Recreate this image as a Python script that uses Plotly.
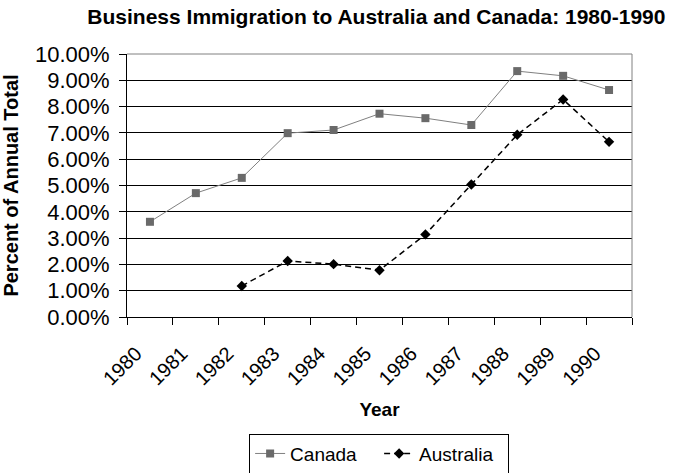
import plotly.graph_objects as go

# Business immigration share of annual total (percent), 1980-1990
years = ["1980", "1981", "1982", "1983", "1984", "1985",
         "1986", "1987", "1988", "1989", "1990"]
canada = [3.62, 4.71, 5.29, 6.99, 7.11, 7.73, 7.56, 7.30, 9.35, 9.17, 8.63]
australia = [None, None, 1.18, 2.13, 2.01, 1.78, 3.14, 5.04, 6.93, 8.27, 6.66]
y_ticks = [0, 1, 2, 3, 4, 5, 6, 7, 8, 9, 10]

FONT = "Liberation Sans, Arial, sans-serif"

fig = go.Figure()
fig.add_trace(go.Scatter(
    x=years, y=canada, name="Canada", mode="lines+markers",
    line=dict(color="#808080", width=1),
    marker=dict(symbol="square", size=8, color="#6a6a6a"),
))
fig.add_trace(go.Scatter(
    x=years, y=australia, name="Australia", mode="lines+markers",
    line=dict(color="black", width=1.5, dash="6px,4px"),
    marker=dict(symbol="diamond", size=8, color="black"),
))

fig.update_layout(
    width=677, height=473,
    margin=dict(l=127, r=45, t=54, b=156),
    paper_bgcolor="white", plot_bgcolor="white",
    font=dict(family=FONT, color="black", size=20),
    title=dict(
        text="<b>Business Immigration to Australia and Canada: 1980-1990</b>",
        x=0.556, xref="container", xanchor="center",
        y=0.964, yref="container", yanchor="middle",
        font=dict(size=21),
    ),
    showlegend=True,
    legend=dict(
        orientation="h", xref="container", yref="container",
        x=0.56, xanchor="center", y=0.041, yanchor="middle",
        bordercolor="black", borderwidth=1, bgcolor="white",
        font=dict(size=19), itemwidth=30,
        entrywidth=84, entrywidthmode="pixels",
    ),
)

fig.update_xaxes(
    type="category", range=[-0.5, 10.5], automargin=False,
    tickson="boundaries", ticks="outside", ticklen=7, tickcolor="black",
    showline=True, linecolor="black", linewidth=1,
    showgrid=False, zeroline=False,
    tickangle=-45, tickfont=dict(size=20),
    ticklabelstandoff=16, ticklabelshift=-14,
    title=dict(text="<b>Year</b>", font=dict(size=19), standoff=14),
)
fig.update_yaxes(
    range=[0, 10], tickvals=y_ticks, automargin=False,
    ticktext=[f"{v:.2f}%" for v in y_ticks],
    ticks="outside", ticklen=7, tickcolor="black",
    showline=True, linecolor="black", linewidth=1,
    showgrid=True, gridcolor="black", gridwidth=1, zeroline=False,
    tickfont=dict(size=22), ticklabelstandoff=5,
    title=dict(text="<b>Percent of Annual Total</b>", font=dict(size=20), standoff=10),
)

# grey frame on the top and right of the plot area
fig.add_shape(type="line", xref="paper", yref="paper", x0=0, x1=1, y0=1, y1=1,
              line=dict(color="#808080", width=1))
fig.add_shape(type="line", xref="paper", yref="paper", x0=1, x1=1, y0=0, y1=1,
              line=dict(color="#808080", width=1))

fig.write_html("out.html")
